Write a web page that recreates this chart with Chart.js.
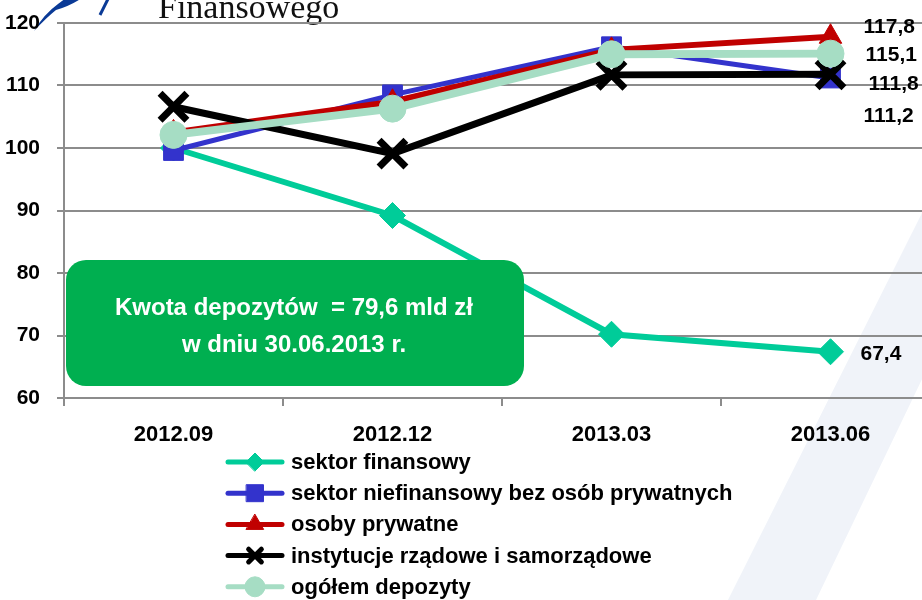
<!DOCTYPE html>
<html lang="pl">
<head>
    <meta charset="UTF-8">
    <title>Depozyty</title>
    <script src="https://cdn.jsdelivr.net/npm/chart.js"></script>
    <style>
        html, body { margin: 0; padding: 0; overflow: hidden; background: #fff; }
        #wrap { width: 960px; height: 600px; }
    </style>
</head>
<body>
    <div id="wrap">
        <canvas id="depoChart" width="960" height="600"></canvas>
    </div>
    <script>
        // okresy
        const periods = ['2012.09', '2012.12', '2013.03', '2013.06'];

        // wartości serii
        const sektorFinansowy = [100.0, 89.2, 70.2, 67.4];
        const sektorNiefinansowy = [99.6, 108.5, 116.2, 111.2];
        const osobyPrywatne = [102.5, 107.4, 115.7, 117.8];
        const instytucjeRzadowe = [106.6, 99.1, 111.7, 111.8];
        const ogolemDepozyty = [102.1, 106.3, 115.0, 115.1];

        const seriesNames = [
            'sektor finansowy',
            'sektor niefinansowy bez osób prywatnych',
            'osoby prywatne',
            'instytucje rządowe i samorządowe',
            'ogółem depozyty'
        ];

        const yTicks = [60, 70, 80, 90, 100, 110, 120];

        const boxLines = ['Kwota depozytów  = 79,6 mld zł', 'w dniu 30.06.2013 r.'];
        const headerText = 'Finansowego';

        const FONT = "'Liberation Sans', Arial, sans-serif";

        // label offsets for last-point values (px from the point)
        const lastLabelOffset = [
            { dx: 30, dy: 2 },
            { dx: 33, dy: 38 },
            { dx: 33, dy: -10 },
            { dx: 38, dy: 10 },
            { dx: 35, dy: 2 }
        ];

        const fmt = v => v.toFixed(1).replace('.', ',');

        const decorPlugin = {
            id: 'decor',
            beforeDraw(chart) {
                const ctx = chart.ctx;
                ctx.save();
                // light watermark band
                ctx.fillStyle = '#f0f3f9';
                ctx.beginPath();
                ctx.moveTo(925, 207);
                ctx.lineTo(960, 207);
                ctx.lineTo(960, 300);
                ctx.lineTo(816, 600);
                ctx.lineTo(728, 600);
                ctx.closePath();
                ctx.fill();

                // header fragment
                ctx.fillStyle = '#111';
                ctx.font = "34px 'Liberation Serif', 'Times New Roman', serif";
                ctx.textBaseline = 'alphabetic';
                ctx.textAlign = 'left';
                ctx.fillText(headerText, 158, 18);

                // logo swoosh
                ctx.fillStyle = '#0a3a96';
                ctx.beginPath();
                ctx.moveTo(34, 31);
                ctx.quadraticCurveTo(44, 14, 58, 4);
                ctx.lineTo(66, -2);
                ctx.lineTo(82, -2);
                ctx.quadraticCurveTo(70, 6, 56, 10);
                ctx.quadraticCurveTo(46, 18, 34, 31);
                ctx.fill();
                ctx.strokeStyle = '#0a3a96';
                ctx.lineWidth = 3;
                ctx.beginPath();
                ctx.moveTo(100, 15);
                ctx.lineTo(108, -1);
                ctx.stroke();
                ctx.restore();
            },
            afterDatasetsDraw(chart) {
                const ctx = chart.ctx;
                ctx.save();

                // green info box
                const bx = 66, by = 260, bw = 458, bh = 126, r = 20;
                ctx.fillStyle = '#00af50';
                ctx.beginPath();
                ctx.moveTo(bx + r, by);
                ctx.arcTo(bx + bw, by, bx + bw, by + bh, r);
                ctx.arcTo(bx + bw, by + bh, bx, by + bh, r);
                ctx.arcTo(bx, by + bh, bx, by, r);
                ctx.arcTo(bx, by, bx + bw, by, r);
                ctx.closePath();
                ctx.fill();
                ctx.fillStyle = '#fff';
                ctx.font = 'bold 24px ' + FONT;
                ctx.textAlign = 'center';
                ctx.textBaseline = 'middle';
                ctx.fillText(boxLines[0], 294, 308);
                ctx.fillText(boxLines[1], 294, 345);

                // values at last point
                ctx.fillStyle = '#000';
                ctx.font = 'bold 21px ' + FONT;
                ctx.textAlign = 'left';
                chart.data.datasets.forEach((ds, i) => {
                    const meta = chart.getDatasetMeta(i);
                    const last = meta.data[meta.data.length - 1];
                    const off = lastLabelOffset[i];
                    ctx.fillText(fmt(ds.data[ds.data.length - 1]), last.x + off.dx, last.y + off.dy);
                });

                // legend (vertical list)
                const lx = 228, lw = 54, ly0 = 462, lstep = 31.2;
                ctx.font = 'bold 22px ' + FONT;
                ctx.textBaseline = 'middle';
                chart.data.datasets.forEach((ds, i) => {
                    const y = ly0 + i * lstep;
                    ctx.strokeStyle = ds.borderColor;
                    ctx.lineWidth = 5;
                    ctx.lineCap = 'round';
                    ctx.beginPath();
                    ctx.moveTo(lx, y);
                    ctx.lineTo(lx + lw, y);
                    ctx.stroke();
                    Chart.helpers.drawPoint(ctx, {
                        pointStyle: ds.pointStyle,
                        radius: ds.legendRadius,
                        borderWidth: ds.pointStyle === 'crossRot' ? 5 : 1,
                        rotation: 0
                    }, lx + lw / 2, y);
                    ctx.fillStyle = '#000';
                    ctx.fillText(ds.label, lx + lw + 9, y + 1);
                });
                ctx.restore();
            }
        };

        const mk = (label, data, color, width, style, radius, legendRadius, order, borderW) => ({
            label: label,
            data: data,
            borderColor: color,
            backgroundColor: color,
            borderWidth: width,
            pointStyle: style,
            pointRadius: radius,
            pointHoverRadius: radius,
            pointBackgroundColor: color,
            pointBorderColor: color,
            pointBorderWidth: borderW,
            legendRadius: legendRadius,
            tension: 0,
            order: order,
            clip: false
        });

        const datasets = [
            mk(seriesNames[0], sektorFinansowy, '#00cc99', 6, 'rectRot', 13, 9, 5, 1),
            mk(seriesNames[1], sektorNiefinansowy, '#3333cc', 5, 'rect', 14, 12, 4, 1),
            mk(seriesNames[2], osobyPrywatne, '#c00000', 6, 'triangle', 13, 10, 3, 1),
            mk(seriesNames[3], instytucjeRzadowe, '#000000', 7, 'crossRot', 19, 9, 2, 7),
            mk(seriesNames[4], ogolemDepozyty, '#a6ddc4', 8, 'circle', 13.5, 10, 1, 1)
        ];

        const ctx = document.getElementById('depoChart').getContext('2d');
        // legend markers: set fill/stroke colour before the library draws the point
        const _dp = Chart.helpers.drawPoint;
        Chart.helpers.drawPoint = function (c, opts, x, y) {
            const ds = datasets.find(d => d.pointStyle === opts.pointStyle);
            if (ds) {
                c.fillStyle = ds.borderColor;
                c.strokeStyle = ds.borderColor;
                c.lineWidth = opts.borderWidth;
            }
            return _dp.call(this, c, opts, x, y);
        };

        new Chart(ctx, {
            type: 'line',
            data: { labels: periods, datasets: datasets },
            options: {
                responsive: false,
                animation: false,
                layout: { autoPadding: false, padding: { left: 0, right: 20, top: 23, bottom: 0 } },
                plugins: {
                    legend: { display: false },
                    tooltip: { enabled: false }
                },
                scales: {
                    x: {
                        offset: true,
                        afterFit: s => { s.height = 202; },
                        grid: {
                            offset: true,
                            drawOnChartArea: false,
                            drawTicks: true,
                            tickLength: 8,
                            color: '#8c8c8c',
                            lineWidth: 2
                        },
                        border: { color: '#8c8c8c', width: 2 },
                        ticks: {
                            color: '#000',
                            padding: 16,
                            maxRotation: 0,
                            font: { family: FONT, size: 22, weight: 'bold' }
                        }
                    },
                    y: {
                        min: 60,
                        max: 120,
                        afterFit: s => {
                            s.width = 64;
                            s.paddingTop = 0;
                            s.paddingBottom = 0;
                        },
                        afterBuildTicks: s => { s.ticks = yTicks.map(v => ({ value: v })); },
                        grid: {
                            color: '#8c8c8c',
                            lineWidth: 2,
                            tickLength: 7
                        },
                        border: { color: '#8c8c8c', width: 2 },
                        ticks: {
                            color: '#000',
                            padding: 17,
                            font: { family: FONT, size: 21, weight: 'bold' }
                        }
                    }
                }
            },
            plugins: [decorPlugin]
        });
    </script>
</body>
</html>
